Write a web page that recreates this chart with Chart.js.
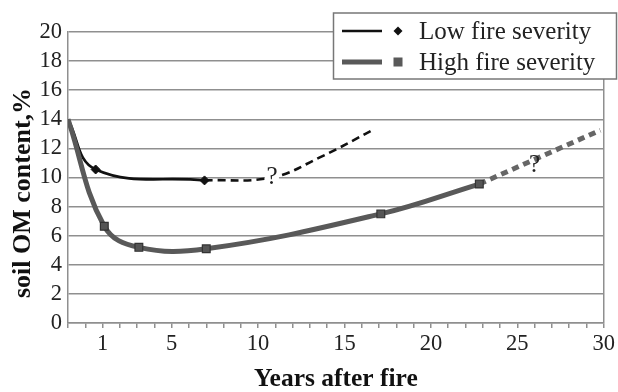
<!DOCTYPE html>
<html><head><meta charset="utf-8">
<script src="https://cdn.jsdelivr.net/npm/chart.js@4/dist/chart.umd.min.js"></script>
<style>html,body{margin:0;padding:0;background:#fff}#wrap{width:618px;height:392px}</style>
</head><body><div id="wrap"><canvas id="c" width="618" height="392"></canvas></div>
<script>
// ---- data ----
const seriesNames = ['Low fire severity', 'High fire severity'];
const lowX = [-1, 0.6, 6.9];
const lowY = [14, 10.55, 9.8];
const lowProjX = [6.9, 10.8, 13.6, 16.7];
const lowProjY = [9.8, 10.0, 11.4, 13.3];
const highX = [-1, 1.1, 3.1, 7.0, 17.1, 22.8];
const highY = [14, 6.65, 5.2, 5.1, 7.5, 9.55];
const highProjX = [22.8, 29.8];
const highProjY = [9.55, 13.25];
const xTickLabels = [1, 5, 10, 15, 20, 25, 30];
const unknownX = [10.8, 26.0];
const unknownY = [10.0, 10.85];
const unknownText = ['?', '?'];

const SERIF = "'Liberation Serif', 'Times New Roman', serif";
const pts = (xs, ys) => xs.map((x, i) => ({x, y: ys[i]}));
const LOW_COL = '#111111', HIGH_COL = '#595959', GRID = '#8f8f8f';

const overlay = {
  id: 'overlay',
  afterDatasetsDraw(chart) {
    const {ctx, scales: {x, y}} = chart;
    ctx.save();
    ctx.font = '25px ' + SERIF;
    ctx.textAlign = 'center';
    ctx.textBaseline = 'middle';
    unknownText.forEach((t, i) => {
      const px = x.getPixelForValue(unknownX[i]), py = y.getPixelForValue(unknownY[i]);
      if (i === 0) { ctx.fillStyle = '#fff'; ctx.fillRect(px - 7, py - 11, 14, 22); }
      ctx.fillStyle = '#222';
      ctx.fillText(t, px, py);
    });
    ctx.restore();
  },
  afterDraw(chart) {
    const {ctx} = chart;
    ctx.save();
    // y axis title
    ctx.translate(23, 193);
    ctx.rotate(-Math.PI / 2);
    ctx.font = 'bold 26px ' + SERIF;
    ctx.fillStyle = '#111';
    ctx.textAlign = 'center';
    ctx.textBaseline = 'middle';
    ctx.fillText('soil OM content,%', 0, 0);
    ctx.restore();
    // legend
    ctx.save();
    const bx = 333.5, by = 13, bw = 283, bh = 66;
    ctx.fillStyle = '#fff';
    ctx.fillRect(bx, by, bw, bh);
    ctx.strokeStyle = '#777';
    ctx.lineWidth = 1.5;
    ctx.strokeRect(bx, by, bw, bh);
    const rows = [
      {name: seriesNames[0], color: LOW_COL, lw: 2.5, style: 'diamond', y: 31},
      {name: seriesNames[1], color: HIGH_COL, lw: 5, style: 'square', y: 62}
    ];
    rows.forEach(r => {
      ctx.strokeStyle = r.color; ctx.lineWidth = r.lw;
      ctx.beginPath(); ctx.moveTo(342, r.y); ctx.lineTo(382, r.y); ctx.stroke();
      ctx.fillStyle = r.color;
      if (r.style === 'diamond') {
        ctx.beginPath(); ctx.moveTo(398, r.y - 4.5); ctx.lineTo(402.5, r.y); ctx.lineTo(398, r.y + 4.5); ctx.lineTo(393.5, r.y); ctx.closePath(); ctx.fill();
      } else {
        ctx.fillRect(393.5, r.y - 4.5, 9, 9);
      }
      ctx.fillStyle = '#222';
      ctx.font = '25px ' + SERIF;
      ctx.textAlign = 'left'; ctx.textBaseline = 'middle';
      ctx.fillText(r.name, 419, r.y + 1);
    });
    ctx.restore();
  }
};

new Chart(document.getElementById('c'), {
  type: 'line',
  data: {
    datasets: [
      {label: seriesNames[0], data: pts(lowX, lowY), borderColor: LOW_COL, backgroundColor: LOW_COL,
       borderWidth: 2.7, tension: 0.4, pointStyle: 'rectRot', pointRadius: [0, 4.5, 4.5],
       pointBackgroundColor: LOW_COL, pointBorderColor: LOW_COL, pointBorderWidth: 1, order: 1},
      {label: seriesNames[0] + ' (projected)', data: pts(lowProjX, lowProjY), borderColor: LOW_COL,
       borderWidth: 2.6, borderDash: [8, 5], tension: 0.4, pointRadius: 0, order: 3},
      {label: seriesNames[1], data: pts(highX, highY), borderColor: HIGH_COL, backgroundColor: HIGH_COL,
       borderWidth: 5, tension: 0.4, pointStyle: 'rect', pointRadius: [0, 5.5, 5.5, 5.5, 5.5, 5.5],
       pointBackgroundColor: '#555', pointBorderColor: '#333', pointBorderWidth: 1.2, order: 0},
      {label: seriesNames[1] + ' (projected)', data: pts(highProjX, highProjY), borderColor: '#666',
       borderWidth: 5, borderDash: [7, 5], tension: 0, pointRadius: 0, order: 2}
    ]
  },
  options: {
    responsive: false,
    animation: false,
    layout: {padding: {left: 0, right: 11, top: 32, bottom: 0}},
    plugins: {legend: {display: false}, tooltip: {enabled: false}},
    scales: {
      x: {
        type: 'linear', min: -1, max: 30,
        ticks: {stepSize: 1, autoSkip: false, maxRotation: 0, padding: 3, color: '#222',
                font: {family: SERIF, size: 22.5},
                callback: v => xTickLabels.includes(v) ? String(v) : ''},
        grid: {color: c => (c.tick && c.tick.value === 30) ? GRID : 'rgba(0,0,0,0)',
               tickColor: GRID, tickLength: 5, lineWidth: 1.5, drawOnChartArea: true},
        border: {color: GRID, width: 1.5},
        title: {display: true, text: 'Years after fire', color: '#111',
                font: {family: SERIF, size: 25.5, weight: 'bold', lineHeight: 1.0}, padding: {top: 0, bottom: 0}},
        afterFit: s => { s.height = 69; }
      },
      y: {
        min: 0, max: 20,
        ticks: {stepSize: 2, autoSkip: false, padding: 6, color: '#222', font: {family: SERIF, size: 22.5}},
        grid: {color: GRID, lineWidth: 1.5, drawTicks: false},
        border: {color: GRID, width: 1.5},
        afterFit: s => { s.width = 68; }
      }
    }
  },
  plugins: [overlay]
});
</script>
</body></html>
